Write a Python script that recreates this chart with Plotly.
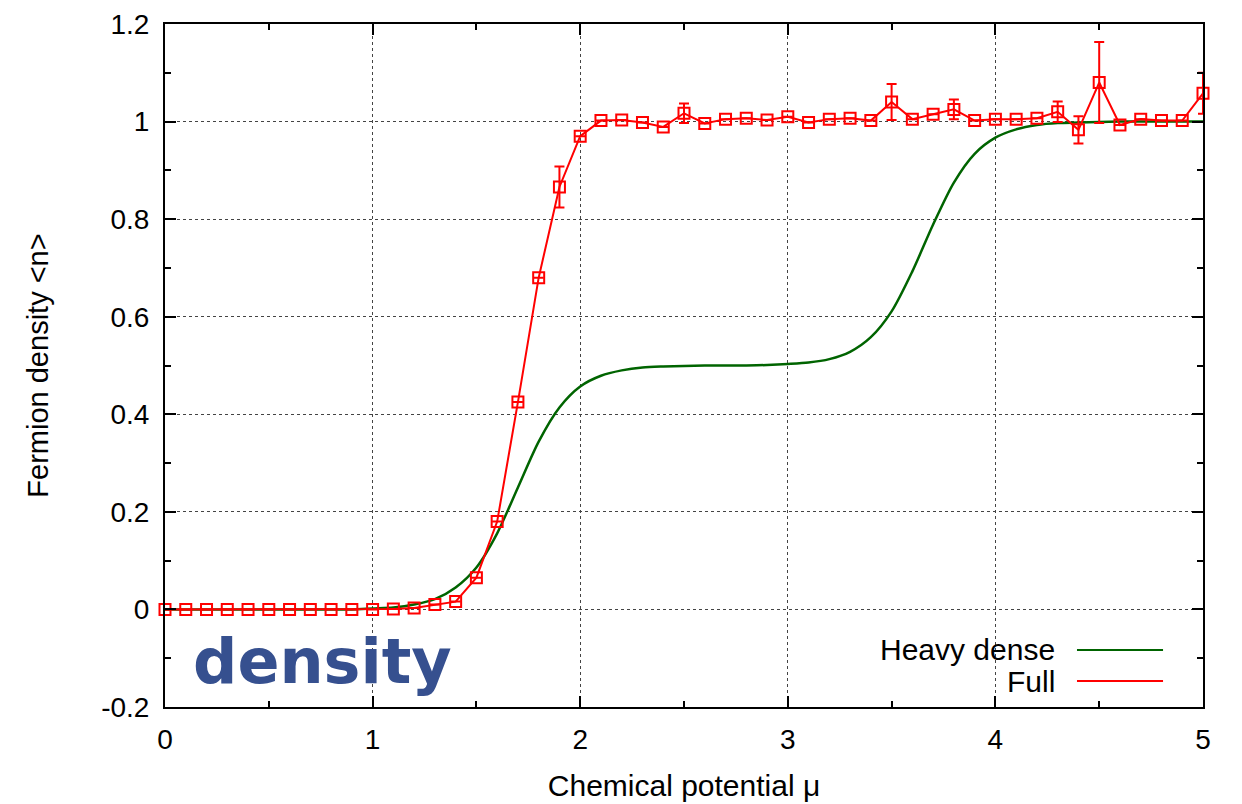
import plotly.graph_objects as go

# ---- data ----
mu_full = [round(0.1 * i, 1) for i in range(51)]
n_full = [0, 0, 0, 0, 0, 0, 0, 0, 0, 0,
          0.0, 0.001, 0.003, 0.010, 0.016, 0.065, 0.180, 0.425, 0.680, 0.866,
          0.970, 1.002, 1.003, 0.998, 0.989, 1.017, 0.996, 1.005, 1.007, 1.003,
          1.010, 0.998, 1.005, 1.007, 1.002, 1.040, 1.005, 1.015, 1.025, 1.002,
          1.005, 1.005, 1.007, 1.020, 0.983, 1.080, 0.993, 1.005, 1.002, 1.002,
          1.058]
err_full = [0, 0, 0, 0, 0, 0, 0, 0, 0, 0,
            0, 0, 0, 0, 0, 0, 0, 0, 0, 0.042,
            0, 0, 0, 0, 0, 0.020, 0, 0, 0, 0,
            0, 0, 0, 0, 0, 0.037, 0, 0, 0.020, 0,
            0, 0, 0, 0.021, 0.028, 0.083, 0, 0, 0, 0,
            0.042]

mu_heavy = [round(0.1 * i, 1) for i in range(51)]
n_heavy = [0, 0, 0, 0, 0, 0, 0, 0, 0, 0,
           0.002, 0.004, 0.010, 0.021, 0.045, 0.086, 0.156, 0.250, 0.344, 0.414,
           0.457, 0.479, 0.490, 0.496, 0.498, 0.499, 0.500, 0.500, 0.500, 0.501,
           0.503, 0.506, 0.513, 0.528, 0.558, 0.611, 0.693, 0.789, 0.875, 0.934,
           0.967, 0.984, 0.993, 0.997, 0.998, 0.999, 1.0, 1.0, 1.0, 1.0,
           1.0]

x_ticks = [0, 1, 2, 3, 4, 5]
y_ticks = [-0.2, 0, 0.2, 0.4, 0.6, 0.8, 1.0, 1.2]
y_tick_text = ["-0.2", "0", "0.2", "0.4", "0.6", "0.8", "1", "1.2"]
x_minor = [0.5, 1.5, 2.5, 3.5, 4.5]
y_minor = [-0.1, 0.1, 0.3, 0.5, 0.7, 0.9, 1.1]

RED = "#ff0000"
GREEN = "#006400"
FONT = "Liberation Sans, Arial, sans-serif"

fig = go.Figure()
fig.add_trace(go.Scatter(
    x=mu_heavy, y=n_heavy, mode="lines", name="Heavy dense",
    line=dict(color=GREEN, width=2.5, shape="spline", smoothing=0.8),
    showlegend=False))
fig.add_trace(go.Scatter(
    x=mu_full, y=n_full, mode="lines+markers", name="Full",
    line=dict(color=RED, width=2),
    marker=dict(symbol="square-open", size=11, color=RED, line=dict(width=2, color=RED)),
    error_y=dict(type="data", array=err_full, visible=True, color=RED, thickness=2, width=5),
    cliponaxis=False,
    showlegend=False))

axis_common = dict(
    showline=True, linecolor="black", linewidth=2, mirror="allticks",
    ticks="inside", ticklen=11, tickwidth=1.5, tickcolor="black",
    showgrid=True, gridcolor="#444444", griddash="dot", gridwidth=1,
    zeroline=False, automargin=False,
    tickfont=dict(family=FONT, size=28, color="black"),
)

fig.update_layout(
    width=1242, height=804,
    margin=dict(l=165, r=39, t=24, b=97),
    paper_bgcolor="white", plot_bgcolor="white",
    xaxis=dict(range=[0, 5], tickvals=x_ticks, ticktext=[str(v) for v in x_ticks],
               ticklabelstandoff=6,
               minor=dict(tickvals=x_minor, ticks="inside", ticklen=6, tickwidth=1.5,
                          tickcolor="black", showgrid=False),
               title=dict(text="Chemical potential μ", font=dict(family=FONT, size=30, color="black"), standoff=21),
               **axis_common),
    yaxis=dict(range=[-0.2, 1.2], tickvals=y_ticks, ticktext=y_tick_text,
               ticklabelstandoff=8,
               minor=dict(tickvals=y_minor, ticks="inside", ticklen=6, tickwidth=1.5,
                          tickcolor="black", showgrid=False),
               title=dict(text="Fermion density &lt;n&gt;", font=dict(family=FONT, size=29, color="black"), standoff=44),
               **axis_common),
    font=dict(family=FONT),
)

# gnuplot-style legend (text right, sample on the right)
legend_items = [("Heavy dense", GREEN, 0.0835), ("Full", RED, 0.038)]
for label, col, yy in legend_items:
    fig.add_annotation(xref="paper", yref="paper", x=0.859, y=yy, text=label,
                       showarrow=False, xanchor="right", yanchor="middle",
                       font=dict(family=FONT, size=30, color="black"))
    fig.add_shape(type="line", xref="paper", yref="paper", x0=0.8786, x1=0.9615,
                  y0=yy, y1=yy, line=dict(color=col, width=2))

fig.add_annotation(xref="paper", yref="paper", x=0.025, y=0.066, text="<b>density</b>",
                   showarrow=False, xanchor="left", yanchor="middle",
                   font=dict(family="DejaVu Sans, Verdana, sans-serif", size=62, color="#36508f"))

fig.write_html("out.html")
